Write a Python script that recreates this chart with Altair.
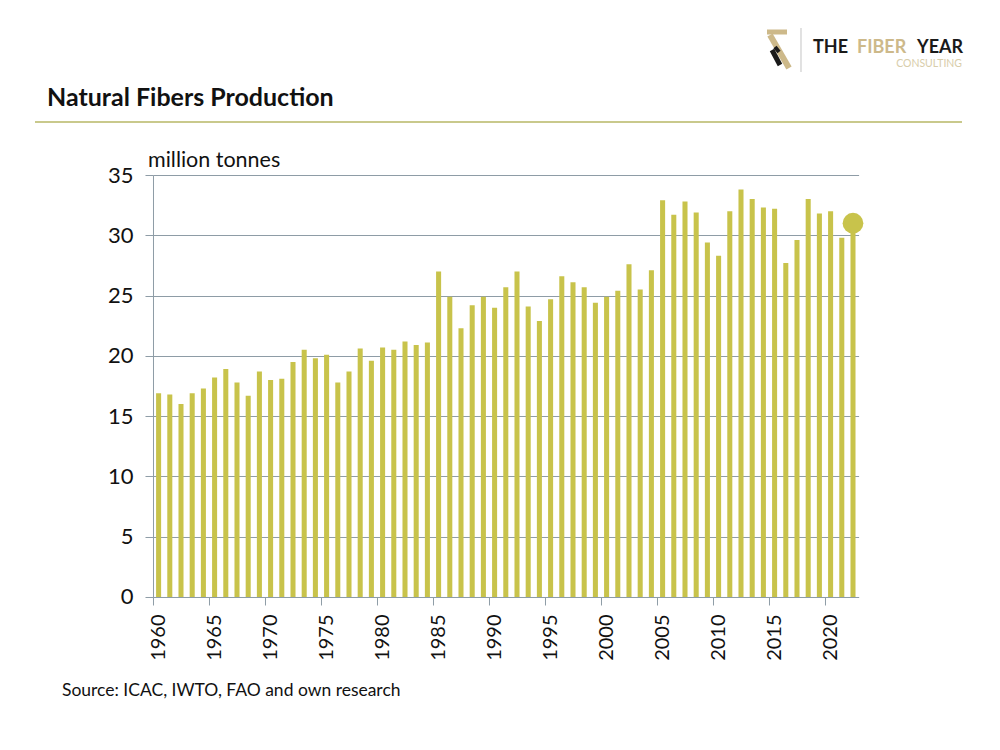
import altair as alt
import pandas as pd

years = list(range(1960, 2023))
production = [
    16.9, 16.8, 16.0, 16.9, 17.3, 18.2, 18.9, 17.8, 16.7, 18.7,
    18.0, 18.1, 19.5, 20.5, 19.8, 20.1, 17.8, 18.7, 20.6, 19.6,
    20.7, 20.5, 21.2, 20.9, 21.1, 27.0, 24.9, 22.3, 24.2, 24.9,
    24.0, 25.7, 27.0, 24.1, 22.9, 24.7, 26.6, 26.1, 25.7, 24.4,
    24.9, 25.4, 27.6, 25.5, 27.1, 32.9, 31.7, 32.8, 31.9, 29.4,
    28.3, 32.0, 33.8, 33.0, 32.3, 32.2, 27.7, 29.6, 33.0, 31.8,
    32.0, 29.8, 30.9,
]
highlight_year = [2022]
highlight_value = [31.0]
tick_years = list(range(1960, 2021, 5))

FONT = "Lato"
BAR = "#c8c34b"
GRID = "#8e9ca6"

df = pd.DataFrame({"year": years, "value": production})
dot = pd.DataFrame({"year": highlight_year, "value": highlight_value})

W = 705.6
H = 422

x_scale = alt.Scale(paddingInner=0.55, paddingOuter=0.275)
y_scale = alt.Scale(domain=[0, 35])

bars = alt.Chart(df).mark_bar(color=BAR).encode(
    x=alt.X("year:O", scale=x_scale,
            axis=alt.Axis(values=tick_years, labelAngle=-90, title=None,
                          labelFont=FONT, labelFontSize=20, labelColor="#111",
                          tickColor=GRID, tickSize=8, domainColor=GRID,
                          bandPosition=0.5, tickOffset=-5.6, labelOffset=6,
                          labelPadding=9, grid=False)),
    y=alt.Y("value:Q", scale=y_scale,
            axis=alt.Axis(values=[0, 5, 10, 15, 20, 25, 30, 35], title=None,
                          labelFont=FONT, labelFontSize=22, labelColor="#111",
                          tickColor=GRID, tickSize=8, domainColor=GRID,
                          gridColor=GRID, gridWidth=1, labelPadding=12)),
)

point = alt.Chart(dot).mark_point(filled=True, color=BAR, opacity=1, size=430).encode(
    x=alt.X("year:O", scale=x_scale),
    y=alt.Y("value:Q", scale=y_scale),
)

def txt(s, px, py, size, color="#111", weight="normal", align="left"):
    return alt.Chart(pd.DataFrame({"t": [s]})).mark_text(
        font=FONT, fontSize=size, color=color, fontWeight=weight,
        align=align, baseline="alphabetic"
    ).encode(text="t:N", x=alt.value(px - 153), y=alt.value(py - 175))

def rule(x1, y1, x2, y2, color, width):
    return alt.Chart(pd.DataFrame({"a": [0]})).mark_rule(
        color=color, strokeWidth=width
    ).encode(x=alt.value(x1 - 153), y=alt.value(y1 - 175),
             x2=alt.value(x2 - 153), y2=alt.value(y2 - 175))

BEIGE = "#cdb98a"

deco = [
    txt("Natural Fibers Production", 47, 106, 25, weight="bold"),
    rule(35, 122, 962, 122, "#c9c98c", 2),
    txt("million tonnes", 148, 167, 21.5),
    txt("Source: ICAC, IWTO, FAO and own research", 62, 696, 17.5),
    txt("THE", 813, 53, 18, color="#1a1a1a", weight="bold"),
    txt("FIBER", 857, 53, 18, color=BEIGE, weight="bold"),
    txt("YEAR", 917, 53, 18, color="#1a1a1a", weight="bold"),
    txt("CONSULTING", 962, 67, 10.5, color="#d8cdaa", align="right"),
    rule(801, 28, 801, 72, "#c4c4c4", 1),
    rule(767, 32, 787, 32, BEIGE, 5),
    rule(770, 35, 789, 68, BEIGE, 6),
    rule(772, 50, 780, 65, "#1a1a1a", 5),
    rule(775, 47, 779, 52, "#1a1a1a", 4),
]

chart = alt.layer(bars, point, *deco).properties(
    width=W, height=H,
    autosize=alt.AutoSizeParams(type="none"),
    padding={"left": 145, "top": 167, "right": 120, "bottom": 130},
    background="white",
).configure_view(stroke=None)

chart.save("out.html", embed_options={"renderer": "svg", "actions": False})
